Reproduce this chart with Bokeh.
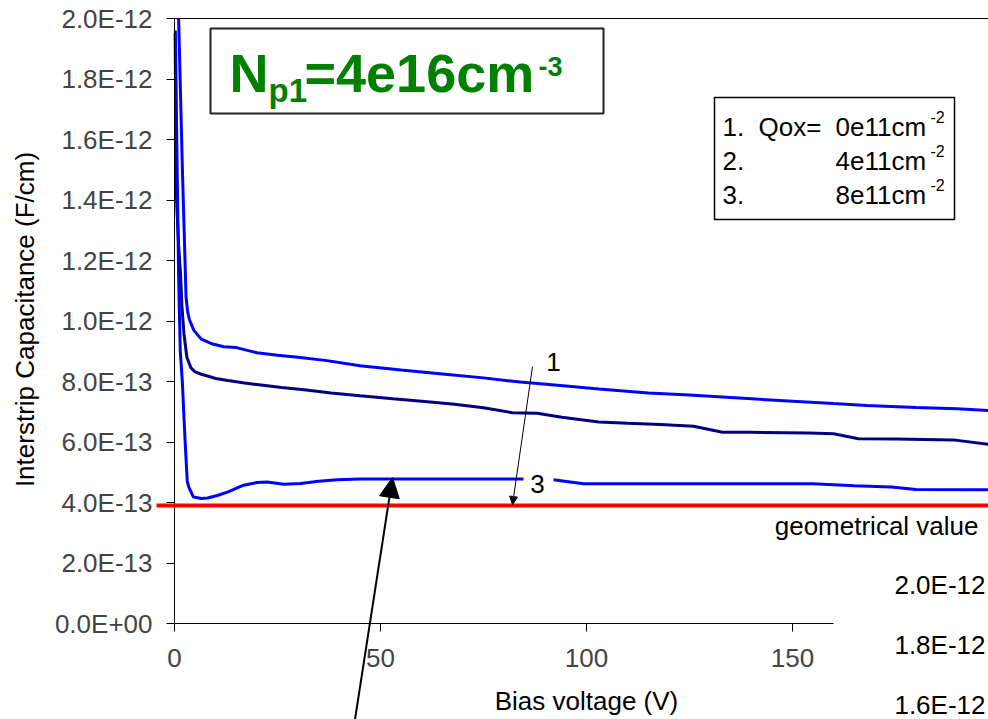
import math
from bokeh.plotting import figure
from bokeh.models import (Range1d, FixedTicker, CustomJSTickFormatter, LinearAxis,
                          Label, Arrow, NormalHead, BoxAnnotation)
from bokeh.embed import file_html
from bokeh.resources import INLINE

# ---------------- data (capacitance in pF/cm, i.e. x1E-12 F/cm) ----------------
v1 = [1.0, 1.9, 2.8, 3.2, 3.6, 4.7, 6.5, 9, 12, 15, 20, 25, 30, 37, 45, 55, 65, 75,
      84, 95, 103, 115, 125, 136, 150, 160, 168, 180, 190, 197.6]
c1 = [2.0, 1.51, 1.08, 1.03, 1.005, 0.969, 0.94, 0.925, 0.915, 0.912, 0.895, 0.887,
      0.88, 0.869, 0.852, 0.838, 0.825, 0.812, 0.798, 0.785, 0.775, 0.762, 0.755,
      0.746, 0.735, 0.727, 0.721, 0.714, 0.71, 0.704]

v2 = [0.15, 0.5, 1.0, 1.46, 1.8, 2.3, 3.0, 4.0, 5.0, 6.5, 8, 10, 13, 17, 20, 26, 32,
      38, 45, 53, 60, 68, 75, 82, 88, 94, 103, 110, 118, 126, 133, 140, 154, 160, 166,
      175, 189, 197.6]
c2 = [1.95, 1.40, 1.25, 1.157, 1.05, 0.958, 0.88, 0.845, 0.832, 0.824, 0.818, 0.81,
      0.803, 0.795, 0.79, 0.78, 0.772, 0.762, 0.753, 0.743, 0.735, 0.725, 0.713, 0.697,
      0.695, 0.682, 0.666, 0.662, 0.658, 0.652, 0.632, 0.632, 0.630, 0.627, 0.611,
      0.61, 0.607, 0.592]

nan = float("nan")
v3 = [0.2, 0.6, 1.0, 1.4, 1.9, 2.3, 2.7, 3.1, 3.5, 4.6, 6.5, 8.0, 10.4, 13, 16.5, 20,
      22.5, 26.5, 30.6, 35, 39.5, 45, 84.7, nan, 92, 96, 99.3, 155, 165, 174, 180, 197.6]
c3 = [1.96, 1.55, 1.15, 0.90, 0.80, 0.68, 0.57, 0.47, 0.45, 0.418, 0.413, 0.415, 0.423,
      0.435, 0.456, 0.466, 0.468, 0.46, 0.463, 0.47, 0.475, 0.478, 0.478, nan, 0.475,
      0.468, 0.462, 0.462, 0.455, 0.451, 0.443, 0.442]

geometrical_value = 0.39

y_ticks = [0.0, 0.2, 0.4, 0.6, 0.8, 1.0, 1.2, 1.4, 1.6, 1.8, 2.0]
y_tick_labels = ["0.0E+00", "2.0E-13", "4.0E-13", "6.0E-13", "8.0E-13", "1.0E-12",
                 "1.2E-12", "1.4E-12", "1.6E-12", "1.8E-12", "2.0E-12"]
x_ticks = [0, 50, 100, 150]
x_axis_max = 160
second_chart_labels = ["2.0E-12", "1.8E-12", "1.6E-12"]

legend_nums = ["1.", "2.", "3."]
legend_qox = ["0e11cm", "4e11cm", "8e11cm"]

# ---------------- layout ----------------
W, H = 988, 719
L, T, B = 174, 18, 96          # plot-area position in pixels
PX_PER_V = 4.12
XMAX = (W - L) / PX_PER_V
YMAX = 2.0
FONT = "Liberation Sans"
TXT = "26px"


def dx(px):
    return (px - L) / (W - L) * XMAX


def dy(py):
    return (H - B - py) / (H - B - T) * YMAX


# the frame covers the whole canvas; axes are drawn at fixed locations inside it
p = figure(width=W, height=H, x_range=Range1d(dx(0), dx(W)), y_range=Range1d(dy(H), dy(0)),
           output_backend="svg", toolbar_location=None,
           min_border_left=0, min_border_right=0, min_border_top=0, min_border_bottom=0,
           outline_line_color=None, background_fill_color="white",
           border_fill_color="white")
p.grid.visible = False

# x axis
xa = p.xaxis[0]
xa.fixed_location = 0
xa.ticker = FixedTicker(ticks=x_ticks)
xa.bounds = (0, x_axis_max)
xa.major_label_text_font = FONT
xa.major_label_text_font_size = TXT
xa.major_label_standoff = 17
xa.major_tick_out = 8
xa.major_tick_in = 0
xa.minor_tick_line_color = None
xa.axis_line_color = "black"
xa.major_tick_line_color = "black"

# y axis
ya = p.yaxis[0]
ya.fixed_location = 0
ya.bounds = (0, YMAX)
ya.ticker = FixedTicker(ticks=y_ticks)
ya.formatter = CustomJSTickFormatter(args=dict(tvals=y_ticks, labels=y_tick_labels), code="""
    let best = 0, bd = Infinity;
    for (let i = 0; i < tvals.length; i++) {
        const d = Math.abs(tvals[i] - tick);
        if (d < bd) { bd = d; best = i; }
    }
    return labels[best];
""")
ya.major_label_text_font = FONT
ya.major_label_text_font_size = TXT
ya.major_label_standoff = 14
ya.major_tick_out = 8
ya.major_tick_in = 0
ya.minor_tick_line_color = None
ya.axis_line_color = "black"
ya.major_tick_line_color = "black"

# top frame line
top_axis = LinearAxis(fixed_location=YMAX, bounds=(0, dx(W)), ticker=FixedTicker(ticks=[]),
                      major_tick_line_color=None, minor_tick_line_color=None,
                      axis_line_color="black")
p.add_layout(top_axis, "above")

# curves
p.line(v1, c1, line_color="#0000FF", line_width=3)
p.line(v2, c2, line_color="#000080", line_width=3)
p.line(v3, c3, line_color="#0000FF", line_width=3)

# geometrical value line (runs slightly past the axis on the left)
p.add_layout(Arrow(x_start=dx(156), y_start=geometrical_value, x_end=dx(W),
                   y_end=geometrical_value, start=None, end=None,
                   line_color="#FF0000", line_width=4))


def lab(px, py, text, size=TXT, align="left", baseline="middle", color="black",
        style="normal", angle=0.0):
    p.add_layout(Label(x=dx(px), y=dy(py), text=text, text_font=FONT,
                       text_font_size=size, text_align=align, text_baseline=baseline,
                       text_color=color, text_font_style=style, angle=angle))


# axis titles
lab(586, 700, "Bias voltage (V)", align="center")
lab(24, 319, "Interstrip Capacitance (F/cm)", align="center", angle=math.pi / 2)

# title box
p.add_layout(BoxAnnotation(left=dx(210), right=dx(603), top=dy(28), bottom=dy(113),
                           fill_color="white", fill_alpha=1.0, line_color="#222222",
                           line_width=2, line_alpha=1.0))
lab(229, 72, "N", size="54px", color="#008000", style="bold")
lab(268, 90, "p1", size="33px", color="#008000", style="bold")
lab(304, 72, "=4e16cm", size="54px", color="#008000", style="bold")
lab(538, 66, "-3", size="27px", color="#008000", style="bold")

# legend box
p.add_layout(BoxAnnotation(left=dx(714), right=dx(954), top=dy(97), bottom=dy(219),
                           fill_color="white", fill_alpha=1.0, line_color="black",
                           line_width=1.5, line_alpha=1.0))
for i, (num, q) in enumerate(zip(legend_nums, legend_qox)):
    yc = 126 + 34 * i
    lab(722, yc, num)
    if i == 0:
        lab(758, yc, "Qox=")
    lab(835, yc, q)
    lab(930, yc - 10, "-2", size="16px")

# curve labels and arrows
lab(553, 361, "1", align="center")
lab(537, 483, "3", align="center")
p.add_layout(Arrow(x_start=dx(532), y_start=dy(366), x_end=dx(512), y_end=dy(504),
                   line_width=1, line_color="black",
                   end=NormalHead(size=8, fill_color="black", line_color="black",
                                  line_width=1)))
p.add_layout(Arrow(x_start=dx(352), y_start=dy(735), x_end=dx(392), y_end=dy(477),
                   line_width=2, line_color="black",
                   end=NormalHead(size=20, fill_color="black", line_color="black",
                                  line_width=1)))

lab(978, 525, "geometrical value", align="right")

# fragment of the neighbouring chart's axis (lower right)
for i, t in enumerate(second_chart_labels):
    lab(985, 584 + 60 * i, t, align="right")

open("out.html", "w").write(file_html(p, INLINE))
